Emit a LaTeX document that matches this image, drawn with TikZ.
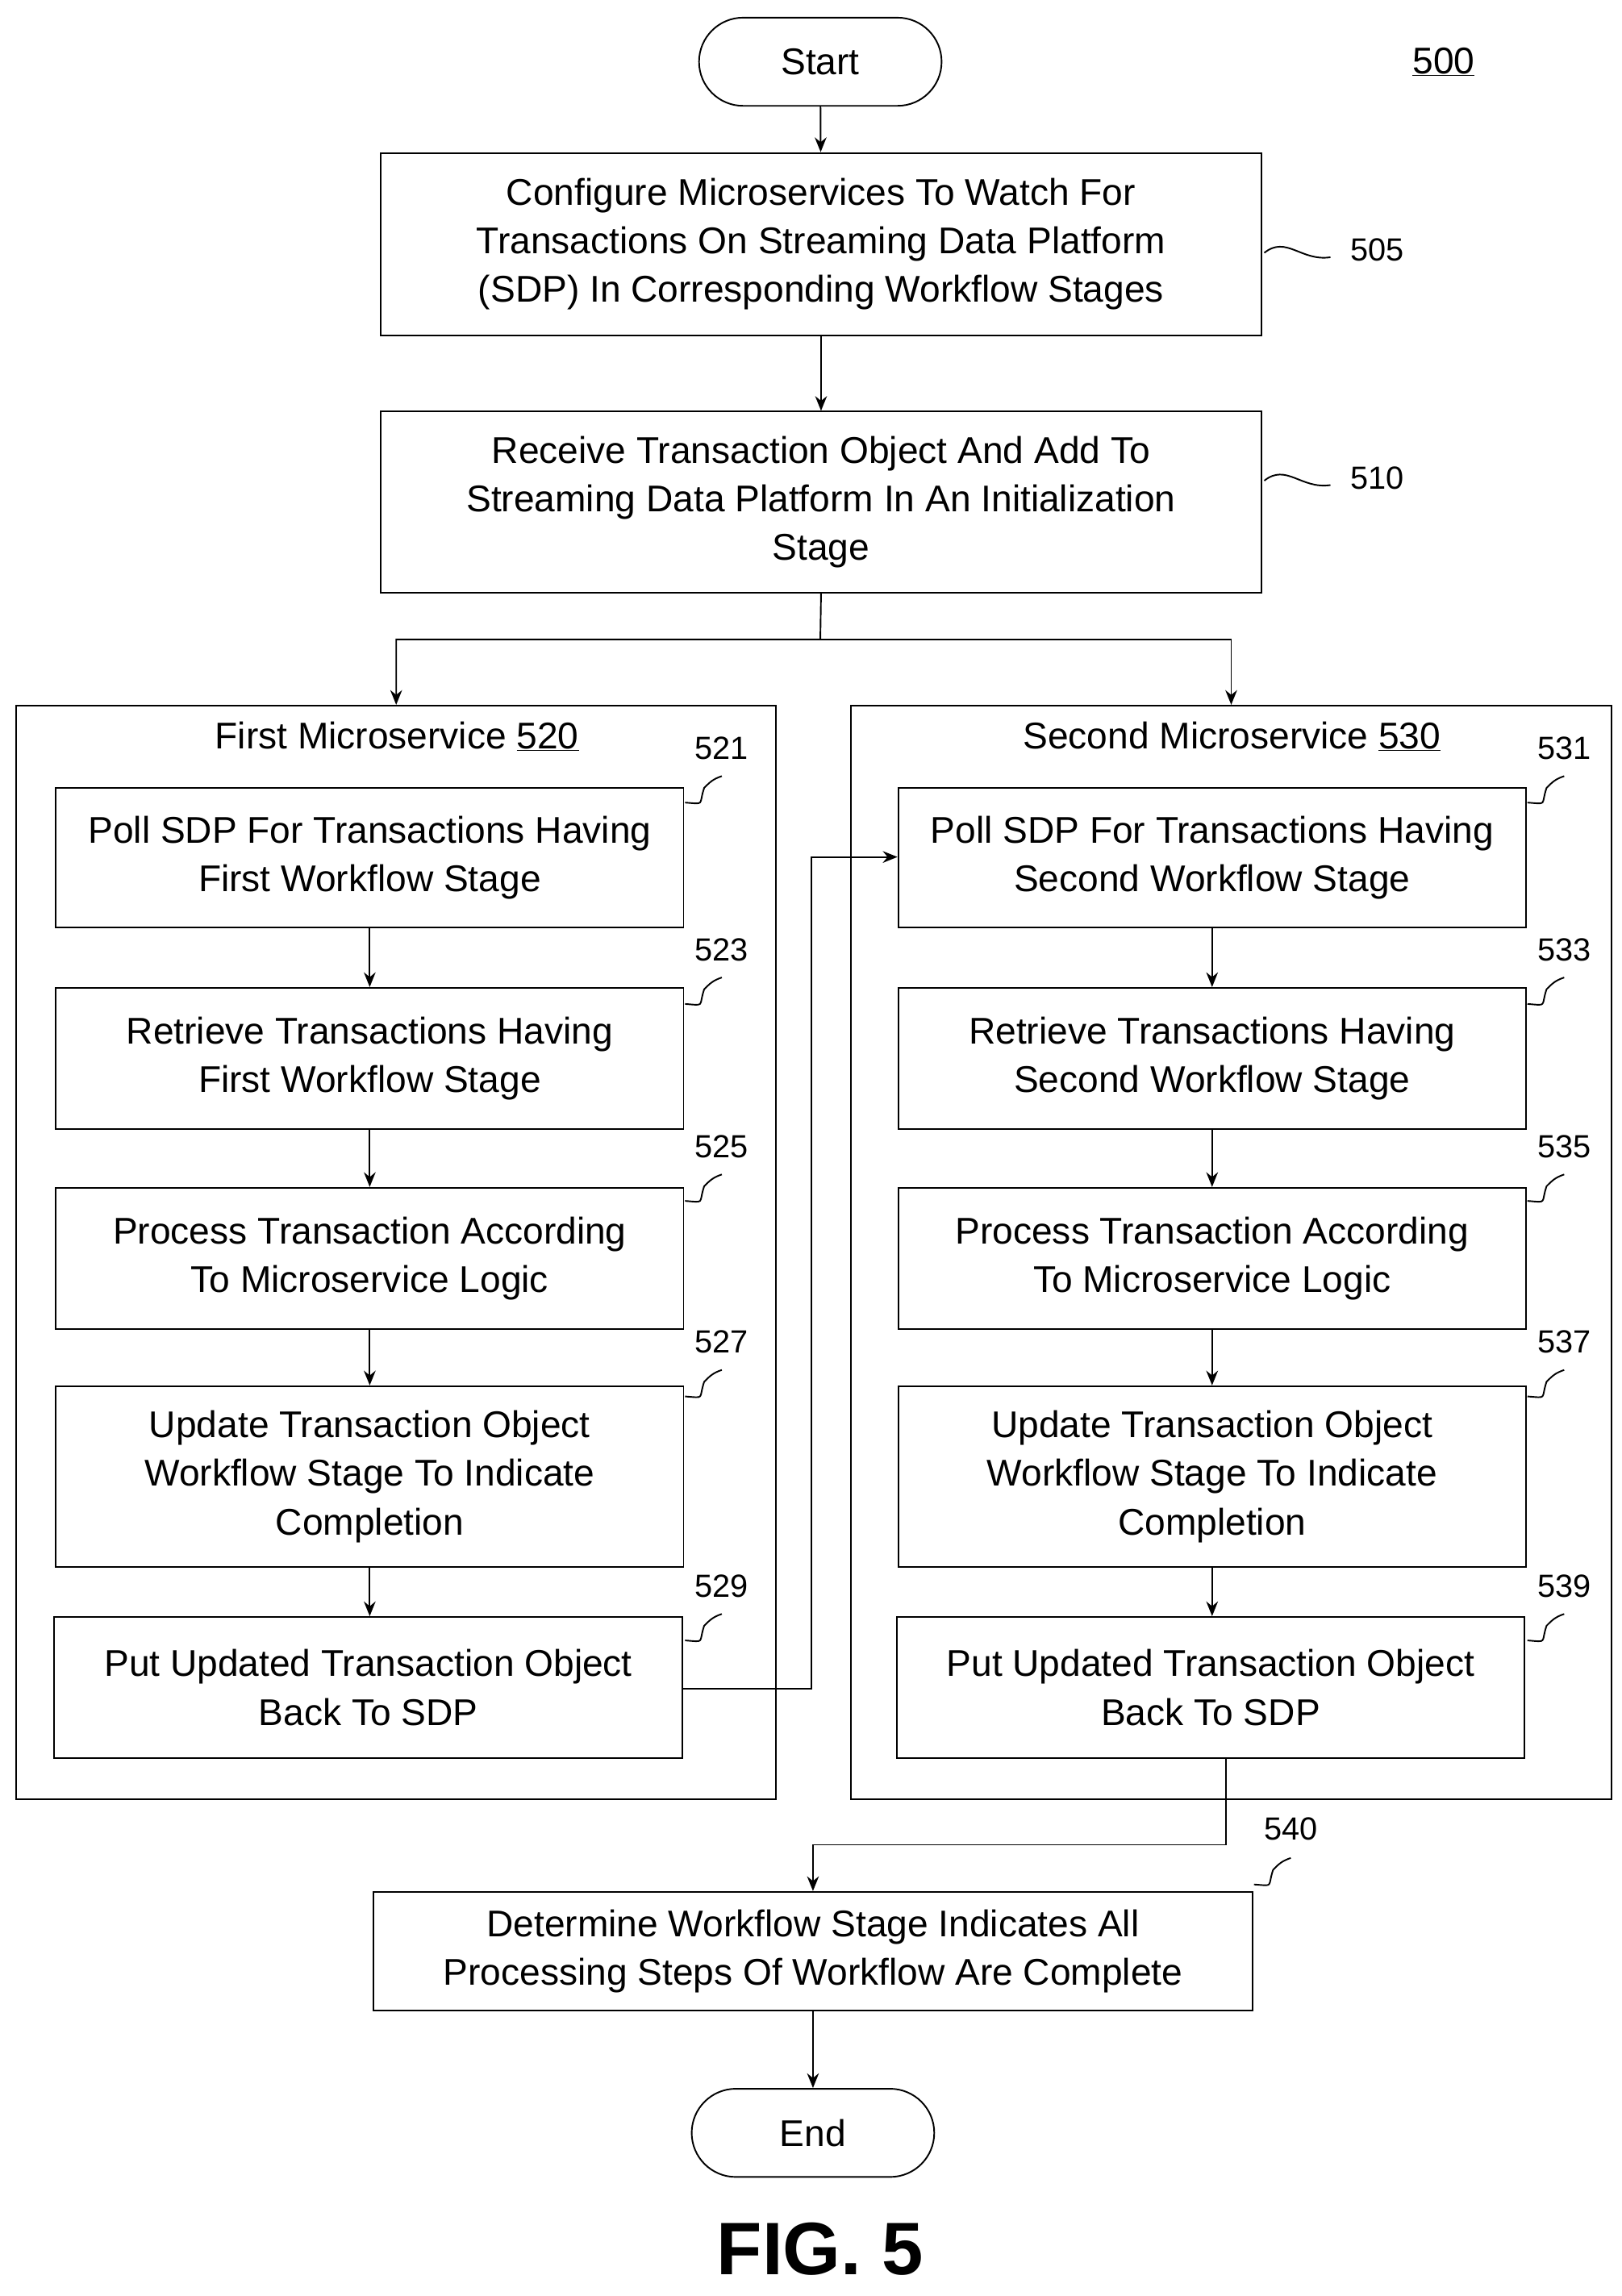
\documentclass[tikz,border=0pt]{standalone}
\usepackage{fontspec}
\setmainfont{Liberation Sans}
\usetikzlibrary{arrows.meta}
\tikzset{
  box/.style={draw,rectangle,align=center,inner sep=0pt,font=\fontsize{36}{47}\selectfont},
  term/.style={draw,rounded corners=1.5cm,minimum width=8.25cm,minimum height=3cm,font=\fontsize{36}{47}\selectfont},
  lab/.style={font=\fontsize{31}{36}\selectfont},
  ttl/.style={font=\fontsize{36}{44}\selectfont},
}
\newcommand{\squig}[1]{\draw (#1) .. controls +(14,1) and +(-4,12) .. +(13,-10) .. controls +(4,-4) and +(-6,2) .. +(25,-18);}
\begin{document}
\begin{tikzpicture}[x=0.05cm,y=-0.05cm,line width=1.5pt,>={Stealth[length=0.5cm,width=0.4cm]}]
\useasboundingbox (0,0) rectangle (1103,1562);
\node[term] (start) at (558,42) {Start};
\node[ttl] (fig) at (982,42) {\underline{500}};
\node[box,minimum width=29.95cm,minimum height=6.2cm] (b505) at (558.5,166) {Configure Microservices To Watch For\\Transactions On Streaming Data Platform\\(SDP) In Corresponding Workflow Stages};
\node[box,minimum width=29.95cm,minimum height=6.15cm] (b510) at (558.5,341.5) {Receive Transaction Object And Add To\\Streaming Data Platform In An Initialization\\Stage};
\node[lab] (l505) at (937,170) {505};
\node[lab] (l510) at (937,325) {510};
\draw (860,172) .. controls (875,160) and (885,178) .. (905,175);
\draw (860,327) .. controls (875,315) and (885,333) .. (905,330);
\draw[->] (start) -- (b505);
\draw[->] (b505) -- (b510);
% microservice containers
\node[draw,rectangle,minimum width=25.85cm,minimum height=37.2cm,inner sep=0pt] (ms1) at (269.5,852) {};
\node[draw,rectangle,minimum width=25.85cm,minimum height=37.2cm,inner sep=0pt] (ms2) at (837.5,852) {};
\node[ttl] (t520) at (270,501) {First Microservice \underline{520}};
\node[ttl] (t530) at (838,501) {Second Microservice \underline{530}};
\coordinate (split) at (558,435);
\draw[->] (b510.south) -- (split) -| (ms1.north);
\draw[->] (split) -| (ms2.north);
% steps
\foreach \side/\cx/\n in {1/251.5/52, 2/824.5/53}{
  \node[box,minimum width=21.35cm,minimum height=4.75cm] (s\n1) at (\cx,583.5) {Poll SDP For Transactions Having\\\ifnum\side=1 First\else Second\fi\ Workflow Stage};
  \node[box,minimum width=21.35cm,minimum height=4.8cm] (s\n3) at (\cx,720) {Retrieve Transactions Having\\\ifnum\side=1 First\else Second\fi\ Workflow Stage};
  \node[box,minimum width=21.35cm,minimum height=4.8cm] (s\n5) at (\cx,856) {Process Transaction According\\To Microservice Logic};
  \node[box,minimum width=21.35cm,minimum height=6.15cm] (s\n7) at (\cx,1004.5) {Update Transaction Object\\Workflow Stage To Indicate\\Completion};
  \node[box,minimum width=21.35cm,minimum height=4.8cm] (s\n9) at (\cx-1,1148) {Put Updated Transaction Object\\Back To SDP};
  \draw[->] (s\n1) -- (s\n3);
  \draw[->] (s\n3) -- (s\n5);
  \draw[->] (s\n5) -- (s\n7);
  \draw[->] (s\n7) -- (s\n9.north -| s\n7.south);
  \foreach \k/\y in {1/509,3/646,5/780,7/913,9/1079}{
    \node[lab] (l\n\k) at (\cx+239.5,\y) {\n\k};
    \squig{\cx+214.5,\y+37}
  }
}
\coordinate (mid) at (552,1149);
\draw[->] (s529.east |- mid) -- (mid) |- (s531.west |- 0,583);
\node[box,minimum width=29.9cm,minimum height=4.05cm] (b540) at (553,1327.5) {Determine Workflow Stage Indicates All\\Processing Steps Of Workflow Are Complete};
\node[lab] (l540) at (878,1244) {540};
\squig{853,1282}
\draw[->] (s539.south -| 834,0) -- (834,1255) -| (b540.north);
\node[term] (end) at (553,1451) {End};
\draw[->] (b540) -- (end);
\node[font=\bfseries\fontsize{72}{80}\selectfont] (caption) at (558,1530) {FIG. 5};
\end{tikzpicture}
\end{document}
